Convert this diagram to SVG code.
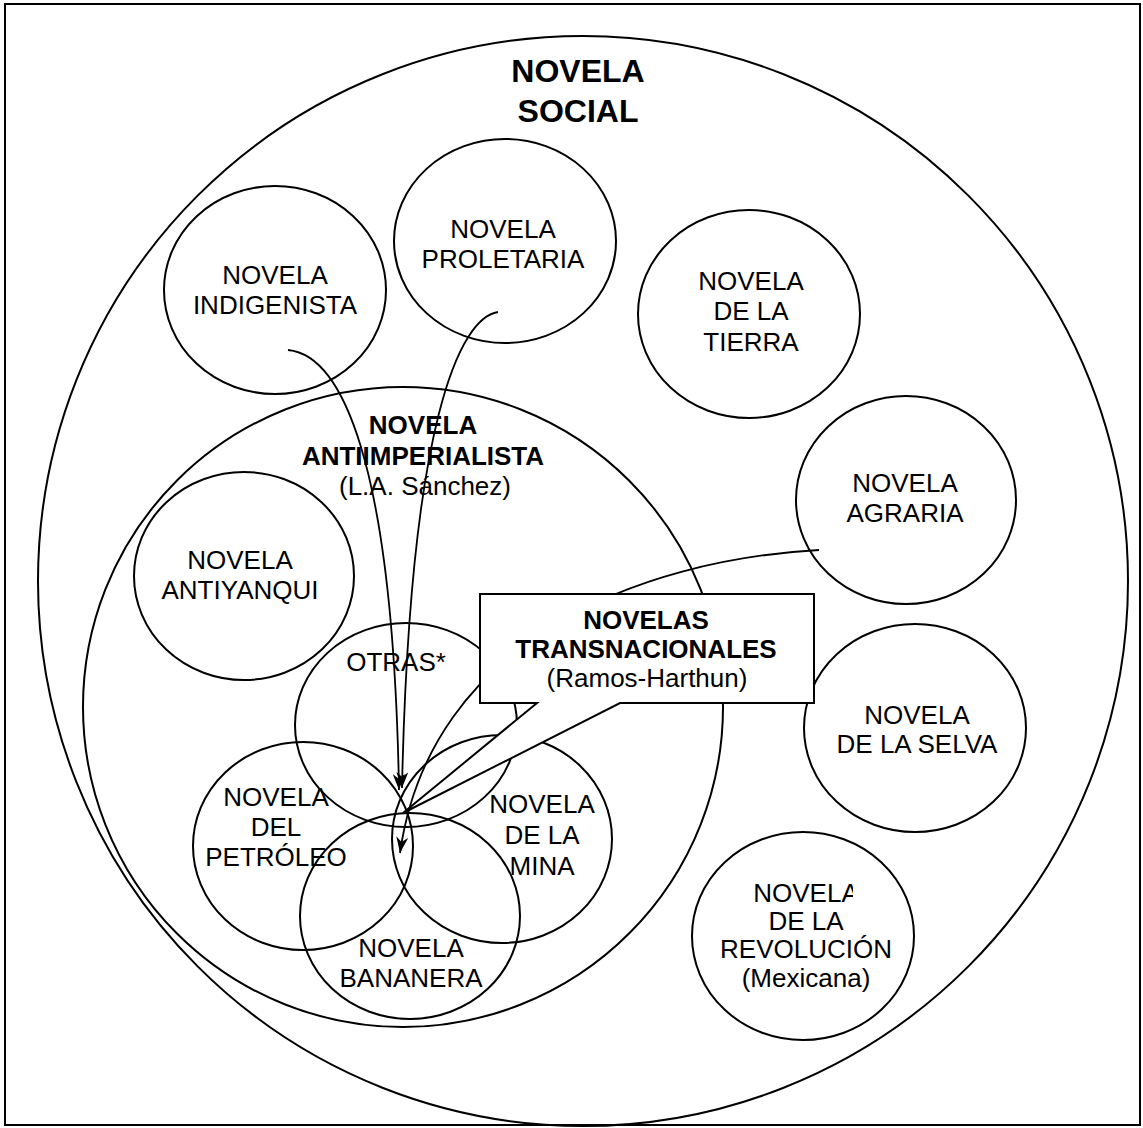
<svg xmlns="http://www.w3.org/2000/svg" width="1143" height="1128" viewBox="0 0 1143 1128">
<style>
.c{fill:none;stroke:#000;stroke-width:2}
.t{font-family:"Liberation Sans",Arial,sans-serif;font-size:26px;fill:#000;text-anchor:middle}
.b{font-weight:bold}
.ln{fill:none;stroke:#000;stroke-width:1.8}
</style>
<defs>
<marker id="ah" markerUnits="userSpaceOnUse" markerWidth="16" markerHeight="12" viewBox="0 0 16 12" refX="16" refY="6" orient="auto">
<path d="M0,0 L16,6 L0,12 L5,6 z" fill="#000"/>
</marker>
<clipPath id="revclip"><rect x="690" y="870" width="163" height="40"/></clipPath>
</defs>
<rect x="5" y="4" width="1135" height="1121" fill="#fff" stroke="#000" stroke-width="2"/>
<g id="social">
<circle class="c" cx="583" cy="581" r="545"/>
<text class="t b" x="578" y="82" style="font-size:32px">NOVELA</text>
<text class="t b" x="578" y="122" style="font-size:32px">SOCIAL</text>
</g>
<g id="antiimperialista">
<circle class="c" cx="403" cy="707" r="320"/>
<text class="t b" x="423" y="434">NOVELA</text>
<text class="t b" x="423" y="465">ANTIIMPERIALISTA</text>
<text class="t" x="425" y="495">(L.A. Sánchez)</text>
</g>
<g id="indigenista">
<ellipse class="c" cx="275" cy="290" rx="111" ry="104"/>
<text class="t" x="275" y="284">NOVELA</text>
<text class="t" x="275" y="314">INDIGENISTA</text>
</g>
<g id="proletaria">
<ellipse class="c" cx="505" cy="241" rx="111" ry="102"/>
<text class="t" x="503" y="238">NOVELA</text>
<text class="t" x="503" y="268">PROLETARIA</text>
</g>
<g id="tierra">
<ellipse class="c" cx="749" cy="314" rx="111" ry="104"/>
<text class="t" x="751" y="290">NOVELA</text>
<text class="t" x="751" y="320">DE LA</text>
<text class="t" x="751" y="351">TIERRA</text>
</g>
<g id="agraria">
<ellipse class="c" cx="906" cy="500" rx="110" ry="104"/>
<text class="t" x="905" y="492">NOVELA</text>
<text class="t" x="905" y="522">AGRARIA</text>
</g>
<g id="antiyanqui">
<ellipse class="c" cx="244" cy="576" rx="110" ry="104"/>
<text class="t" x="240" y="569">NOVELA</text>
<text class="t" x="240" y="599">ANTIYANQUI</text>
</g>
<g id="otras">
<ellipse class="c" cx="406" cy="725" rx="111" ry="102"/>
<text class="t" x="396" y="671">OTRAS*</text>
</g>
<g id="petroleo">
<ellipse class="c" cx="303" cy="846" rx="110" ry="104"/>
<text class="t" x="276" y="806">NOVELA</text>
<text class="t" x="276" y="836">DEL</text>
<text class="t" x="276" y="866">PETRÓLEO</text>
</g>
<g id="mina">
<ellipse class="c" cx="502" cy="839" rx="110" ry="104"/>
<text class="t" x="542" y="813">NOVELA</text>
<text class="t" x="542" y="844">DE LA</text>
<text class="t" x="542" y="875">MINA</text>
</g>
<g id="bananera">
<ellipse class="c" cx="410" cy="916" rx="110" ry="103"/>
<text class="t" x="411" y="957">NOVELA</text>
<text class="t" x="411" y="987">BANANERA</text>
</g>
<g id="selva">
<ellipse class="c" cx="915" cy="728" rx="111" ry="104"/>
<text class="t" x="917" y="724">NOVELA</text>
<text class="t" x="917" y="753">DE LA SELVA</text>
</g>
<g id="revolucion">
<ellipse class="c" cx="803" cy="936" rx="111" ry="104"/>
<text class="t" x="806" y="902" clip-path="url(#revclip)">NOVELA</text>
<text class="t" x="806" y="930">DE LA</text>
<text class="t" x="806" y="958">REVOLUCIÓN</text>
<text class="t" x="806" y="987">(Mexicana)</text>
</g>
<g id="connectors">
<path class="ln" d="M288,350 C340,355 393,455 399,790" marker-end="url(#ah)"/>
<path class="ln" d="M498,312 C460,318 410,420 402,788" marker-end="url(#ah)"/>
<path class="ln" d="M819,550 C640,560 430,640 400,853" marker-end="url(#ah)"/>
</g>
<g id="transnacionales">
<path d="M480,594 H814 V703 H620 L403,813 L537,703 H480 Z" fill="#fff" stroke="#000" stroke-width="2"/>
<text class="t b" x="646" y="629">NOVELAS</text>
<text class="t b" x="646" y="658">TRANSNACIONALES</text>
<text class="t" x="647" y="687">(Ramos-Harthun)</text>
</g>
</svg>
